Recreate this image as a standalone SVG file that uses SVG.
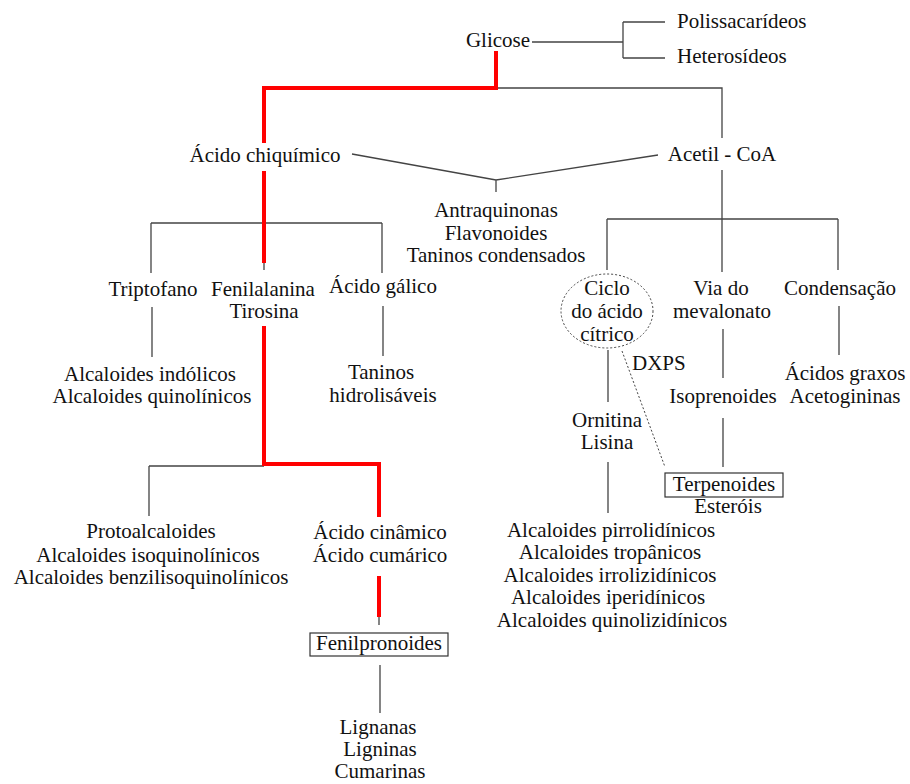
<svg xmlns="http://www.w3.org/2000/svg" width="910" height="784" viewBox="0 0 910 784">
<style>
text{font-family:"Liberation Serif","Times New Roman",serif;font-size:21px;fill:#111;text-anchor:middle}
.s{text-anchor:start}
.g{fill:none;stroke:#444;stroke-width:1.3}
.r{fill:none;stroke:#f00;stroke-width:4;stroke-linejoin:miter}
.d{fill:none;stroke:#444;stroke-width:1;stroke-dasharray:2 2}
.b{fill:none;stroke:#333;stroke-width:1.2}
</style>
<rect width="910" height="784" fill="#fff"/>
<g id="connectors">
<path class="g" d="M532 42H623M623 22V58M623 22H665M623 58H665"/>
<path class="g" d="M496 88H722V138"/>
<path class="g" d="M722 170V272M607 219H838M607 219V270M838 219V270"/>
<path class="g" d="M352 154L496 180L658 155M496 180V192"/>
<path class="g" d="M151 223H382M151 223V273M382 223V273M264 258V270"/>
<path class="g" d="M152 307V357M383 306V356"/>
<path class="g" d="M149 466H264M149 466V516"/>
<path class="g" d="M723 329V378M723 418V467M839 306V355M608 350V402M608 462V513"/>
<path class="d" d="M622 351L665 467"/>
<path class="g" d="M379 612V625M380 665V713"/>
<path class="r" d="M496 51V88H264V143"/>
<path class="r" d="M264 171V263"/>
<path class="r" d="M264 326V464H379V517"/>
<path class="r" d="M379 576V617"/>
</g>
<g id="glicose"><text x="498" y="47">Glicose</text></g>
<g id="polissacarideos"><text class="s" x="677" y="28">Polissacarídeos</text></g>
<g id="heterosideos"><text class="s" x="677" y="63">Heterosídeos</text></g>
<g id="acido-chiquimico"><text x="265" y="162">Ácido chiquímico</text></g>
<g id="acetil-coa"><text x="722" y="161">Acetil - CoA</text></g>
<g id="antraquinonas"><text x="496" y="217">Antraquinonas</text><text x="496" y="240">Flavonoides</text><text x="496" y="262">Taninos condensados</text></g>
<g id="triptofano"><text x="153" y="296">Triptofano</text></g>
<g id="fenilalanina"><text x="263" y="296">Fenilalanina</text><text x="264" y="318">Tirosina</text></g>
<g id="acido-galico"><text x="383" y="293">Ácido gálico</text></g>
<g id="alcaloides-indolicos"><text x="150" y="381">Alcaloides indólicos</text><text x="152" y="403">Alcaloides quinolínicos</text></g>
<g id="taninos-hidrolisaveis"><text x="381" y="379">Taninos</text><text x="383" y="402">hidrolisáveis</text></g>
<g id="ciclo"><ellipse class="d" cx="607" cy="311" rx="46" ry="37"/><text x="607" y="295">Ciclo</text><text x="607" y="318">do ácido</text><text x="607" y="341">cítrico</text></g>
<g id="via-mevalonato"><text x="721" y="295">Via do</text><text x="722" y="318">mevalonato</text></g>
<g id="condensacao"><text x="840" y="295">Condensação</text></g>
<g id="dxps"><text class="s" x="632" y="370">DXPS</text></g>
<g id="isoprenoides"><text x="723" y="403">Isoprenoides</text></g>
<g id="acidos-graxos"><text x="845" y="380">Ácidos graxos</text><text x="845" y="403">Acetogininas</text></g>
<g id="ornitina"><text x="607" y="427">Ornitina</text><text x="607" y="449">Lisina</text></g>
<g id="terpenoides"><rect class="b" x="665" y="473" width="118" height="24"/><text x="724" y="491">Terpenoides</text><text x="728" y="513">Esteróis</text></g>
<g id="alcaloides-pirrolidinicos"><text x="611" y="537">Alcaloides pirrolidínicos</text><text x="610" y="559">Alcaloides tropânicos</text><text x="610" y="582">Alcaloides irrolizidínicos</text><text x="608" y="604">Alcaloides iperidínicos</text><text x="612" y="627">Alcaloides quinolizidínicos</text></g>
<g id="protoalcaloides"><text x="151" y="538">Protoalcaloides</text><text x="148" y="562">Alcaloides isoquinolínicos</text><text x="151" y="584">Alcaloides benzilisoquinolínicos</text></g>
<g id="acido-cinamico"><text x="380" y="539">Ácido cinâmico</text><text x="380" y="562">Ácido cumárico</text></g>
<g id="fenilpronoides"><rect class="b" x="310" y="633" width="138" height="23"/><text x="379" y="650">Fenilpronoides</text></g>
<g id="lignanas"><text x="378" y="734">Lignanas</text><text x="380" y="756">Ligninas</text><text x="380" y="778">Cumarinas</text></g>
</svg>
